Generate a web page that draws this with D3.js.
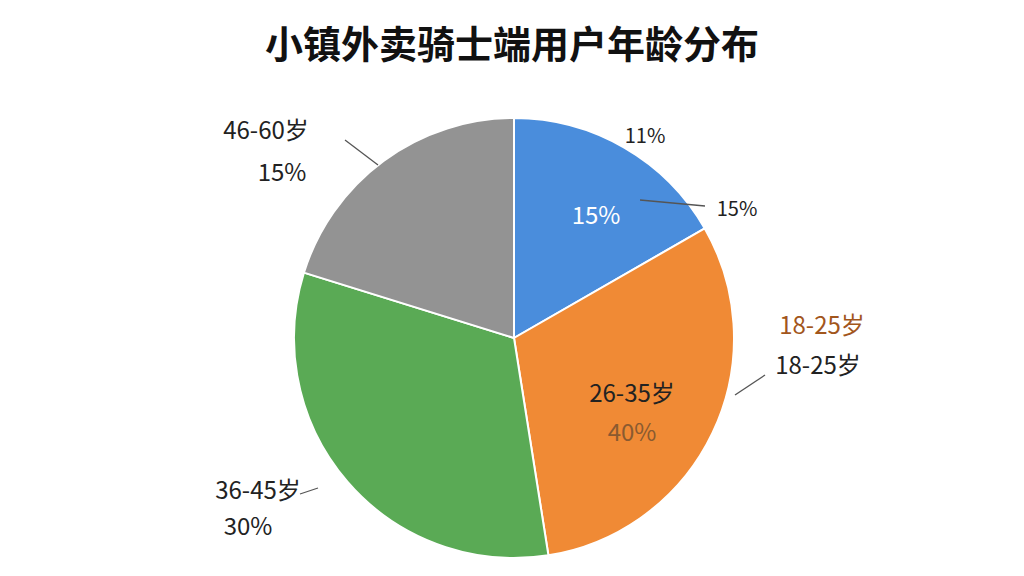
<!DOCTYPE html>
<html><head><meta charset="utf-8">
<script src="https://cdn.jsdelivr.net/npm/d3@7"></script>
<style>body{margin:0;background:#fff}svg{display:block}</style>
</head><body>
<svg id="c" width="1024" height="576"></svg>
<script>
const categories = ["18-25岁","26-35岁","36-45岁","46-60岁"];
const values = [16.7, 30.8, 32.3, 20.2];
const colors = ["#4a8ddc","#f08a35","#5aaa55","#939393"];
const texts = [
  {t:"11%", x:645, y:143, c:"#222", s:20},
  {t:"15%", x:596, y:224, c:"#fff", s:24},
  {t:"15%", x:737, y:216, c:"#222", s:20},
  {t:"18-25岁", x:822, y:334, c:"#a2561c", s:24},
  {t:"18-25岁", x:818, y:374, c:"#222", s:24},
  {t:"26-35岁", x:632, y:402, c:"#222", s:24},
  {t:"40%", x:632, y:441, c:"#8a5a30", s:24},
  {t:"36-45岁", x:258, y:499, c:"#222", s:24},
  {t:"30%", x:248, y:535, c:"#222", s:24},
  {t:"46-60岁", x:266, y:139, c:"#222", s:24},
  {t:"15%", x:282, y:181, c:"#222", s:24}
];
const svg = d3.select("#c");
svg.append("text").attr("x",512).attr("y",58).attr("text-anchor","middle")
  .attr("font-family","Noto Sans CJK SC").attr("font-weight","bold").attr("font-size",38)
  .attr("fill","#111").text("小镇外卖骑士端用户年龄分布");
const g = svg.append("g").attr("transform","translate(514,338)");
const pie = d3.pie().sort(null).value(d=>d);
const arc = d3.arc().innerRadius(0).outerRadius(220);
g.selectAll("path").data(pie(values)).join("path")
  .attr("d",arc).attr("fill",(d,i)=>colors[i]).attr("stroke","#fff").attr("stroke-width",2);
const lines = [[640,200,705,206],[735,395,765,375],[318,488,300,494],[345,140,378,165]];
svg.selectAll("line.l").data(lines).join("line").attr("class","l")
  .attr("x1",d=>d[0]).attr("y1",d=>d[1]).attr("x2",d=>d[2]).attr("y2",d=>d[3])
  .attr("stroke","#555").attr("stroke-width",1.3);
svg.selectAll("text.t").data(texts).join("text").attr("class","t")
  .attr("x",d=>d.x).attr("y",d=>d.y).attr("text-anchor","middle")
  .attr("font-family","Noto Sans CJK SC").attr("font-size",d=>d.s).attr("fill",d=>d.c).text(d=>d.t);
</script>
</body></html>
